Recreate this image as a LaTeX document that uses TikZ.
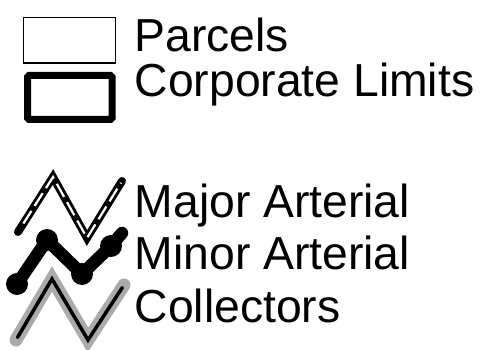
\documentclass[tikz,border=0pt]{standalone}
\usepackage{fontspec}
\setmainfont{Liberation Sans}
\begin{document}
\begin{tikzpicture}[x=1pt,y=-1pt,
  lbl/.style={anchor=base west,inner sep=0pt,font=\fontsize{46.3}{50}\selectfont},
  parcelbox/.style={draw=black,line width=1.5pt},
  limitbox/.style={draw=black,line width=7pt,rounded corners=1.5pt},
  majorcase/.style={draw=black,line width=8pt,line cap=round,miter limit=10},
  majorfill/.style={draw=white,line width=2.2pt,dash pattern=on 15pt off 6pt,dash phase=15pt,shorten <=4pt,shorten >=2pt},
  minorline/.style={draw=black,line width=12.5pt,line cap=round,line join=round},
  minordot/.style={fill=black},
  collcase/.style={draw=black!33,line width=13pt,line cap=round,miter limit=10},
  collcore/.style={draw=black,line width=3.5pt,line cap=round,shorten <=3pt,shorten >=3pt}]
\useasboundingbox (0,0) rectangle (490,350);
% Parcels
\draw[parcelbox] (23.5,17.5) rectangle (115.5,63);
\node[lbl] (tparcels) at (134.5,52) {Parcels};
% Corporate limits
\draw[limitbox] (27.5,75.5) rectangle (112,119.5);
\node[lbl] (tlimits) at (134.5,97) {Corporate Limits};
% Major arterial
\coordinate (ma1) at (18,232);
\coordinate (ma2) at (53,177);
\coordinate (ma3) at (87,238);
\coordinate (ma4) at (122,181);
\draw[majorcase] (ma1) -- (ma2) -- (ma3) -- (ma4);
\draw[majorfill] (ma1) -- (ma2) -- (ma3) -- (ma4);
\node[lbl] (tmajor) at (134.5,217) {Major Arterial};
% Minor arterial
\coordinate (mi1) at (17,284);
\coordinate (mi2) at (47,240);
\coordinate (mi3) at (82,274);
\coordinate (mi4) at (111,246);
\coordinate (mi5) at (122,233);
\draw[minorline] (mi1) -- (mi2) -- (mi3) -- (mi4) -- (mi5);
\foreach \p in {mi1,mi2,mi3,mi4} \fill[minordot] (\p) circle (11);
\node[lbl] (tminor) at (134.5,269) {Minor Arterial};
% Collectors
\coordinate (co1) at (16,340);
\coordinate (co2) at (52,279);
\coordinate (co3) at (88,340);
\coordinate (co4) at (124,285);
\draw[collcase] (co1) -- (co2) -- (co3) -- (co4);
\draw[collcore] (co1) -- (co2) -- (co3) -- (co4);
\node[lbl] (tcoll) at (134.5,322) {Collectors};
\end{tikzpicture}
\end{document}
